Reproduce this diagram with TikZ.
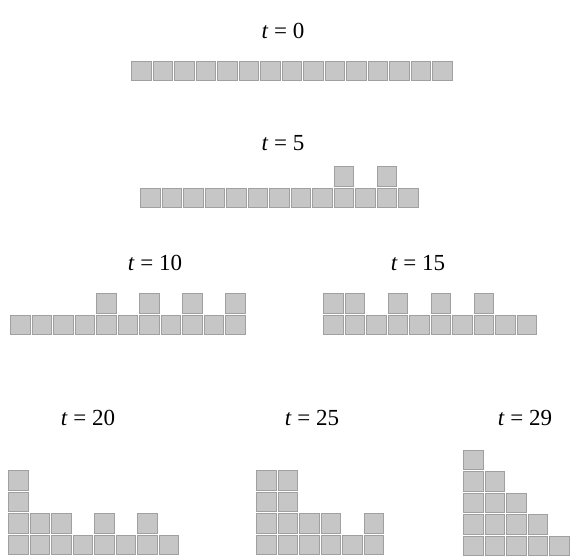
\documentclass[tikz,border=0pt]{standalone}
\usepackage{fontspec}
\setmainfont{Liberation Serif}
\usepackage{xcolor}
\definecolor{brick}{HTML}{C6C6C6}
\definecolor{brickedge}{HTML}{A0A0A0}
\tikzset{
  block/.style={draw=brickedge,line width=0.8pt,fill=brick,minimum size=19.5pt,inner sep=0pt,anchor=south west},
  steplabel/.style={font=\fontsize{23}{27}\selectfont,inner sep=1pt},
}
% draw one pile: #1 name, #2 x of first column, #3 y of ground, #4 column heights
\newcommand{\pile}[4]{%
  \foreach \h [count=\c] in {#4} {
    \foreach \r in {1,...,\h} {
      \node[block] (#1-\c-\r) at ({#2+(\c-1)*21.5},{#3+(\r-1)*21.5}) {};
    }
  }%
}
\begin{document}
\begin{tikzpicture}[x=1pt,y=1pt]
\useasboundingbox (0,0) rectangle (572,556);
% time labels
\node[steplabel] (lbl0)  at (283,525) {\textit{t} = 0};
\node[steplabel] (lbl5)  at (283,413) {\textit{t} = 5};
\node[steplabel] (lbl10) at (155,293) {\textit{t} = 10};
\node[steplabel] (lbl15) at (418,293) {\textit{t} = 15};
\node[steplabel] (lbl20) at (88,138)  {\textit{t} = 20};
\node[steplabel] (lbl25) at (312,138) {\textit{t} = 25};
\node[steplabel] (lbl29) at (525,138) {\textit{t} = 29};
% piles
\pile{p0}{131}{475}{1,1,1,1,1,1,1,1,1,1,1,1,1,1,1}
\pile{p5}{140}{348}{1,1,1,1,1,1,1,1,1,2,1,2,1}
\pile{p10}{10}{221}{1,1,1,1,2,1,2,1,2,1,2}
\pile{p15}{323}{221}{2,2,1,2,1,2,1,2,1,1}
\pile{p20}{8}{1}{4,2,2,1,2,1,2,1}
\pile{p25}{256}{1}{4,4,2,2,1,2}
\pile{p29}{463}{0}{5,4,3,2,1}
\end{tikzpicture}
\end{document}
